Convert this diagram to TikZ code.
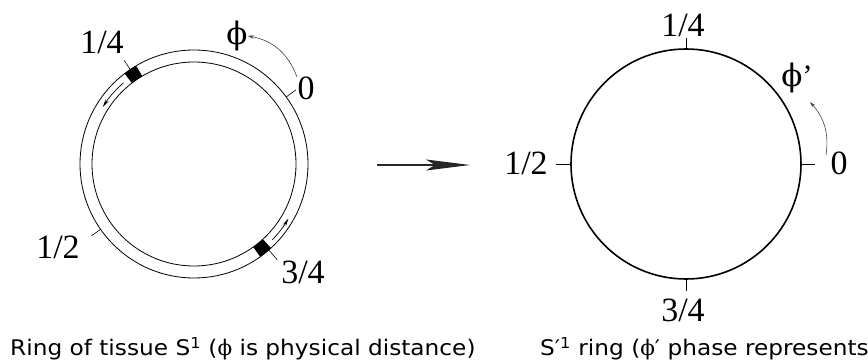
\documentclass[tikz,border=0pt]{standalone}
\usepackage{fontspec}
\newfontfamily\numfont{Liberation Serif}
\newfontfamily\phifont{DejaVu Serif}
\newfontfamily\capfont[FakeStretch=1.08]{DejaVu Sans}
\usetikzlibrary{arrows.meta, calc}

\tikzset{
  ringline/.style={draw, circle, line width=0.8pt, inner sep=0pt, outer sep=0pt},
  tickmark/.style={line width=0.6pt},
  numlabel/.style={font=\numfont\fontsize{34}{34}\selectfont, inner sep=0pt},
  phlabel/.style={font=\phifont\fontsize{31}{31}\selectfont, inner sep=0pt},
  caption/.style={font=\capfont\fontsize{21.5}{24}\selectfont, anchor=base west, inner sep=0pt},
  flowarrow/.style={line width=0.6pt, draw=black!75, -{Stealth[length=6pt, width=3.5pt]}},
  ringarrow/.style={line width=0.7pt, -{Stealth[length=8pt, width=3.5pt]}}
}

\begin{document}
\begin{tikzpicture}[x=1pt, y=1pt]
    \useasboundingbox (0,0) rectangle (868,364);

    % ring of tissue
    \coordinate (L) at (194,200);
    \node[ringline, minimum size=228pt] (ringout) at (L) {};
    \node[ringline, minimum size=204pt] (ringin) at (L) {};

    % excited blocks
    \fill ([shift={(L)}]120.5:102) arc[start angle=120.5, end angle=127.5, radius=102]
      -- ([shift={(L)}]127.5:114) arc[start angle=127.5, end angle=120.5, radius=114] -- cycle;
    \fill ([shift={(L)}]305.5:102) arc[start angle=305.5, end angle=312.5, radius=102]
      -- ([shift={(L)}]312.5:114) arc[start angle=312.5, end angle=305.5, radius=114] -- cycle;
    \draw[ringarrow] ([shift={(L)}]131:107.5) arc[start angle=131, end angle=148, radius=107.5];
    \draw[ringarrow] ([shift={(L)}]316:109) arc[start angle=316, end angle=330, radius=109];

    % ticks and labels, left
    \draw[tickmark] (ringout.36.5) -- ++(36.5:12);
    \draw[tickmark] (ringout.124) -- ++(124:11);
    \draw[tickmark] (ringout.215) -- ++(215:11);
    \draw[tickmark] (ringout.311) -- ++(311:13);
    \node[numlabel] (lzero) at (306,276) {0};
    \node[numlabel] (lquarter) at (102,322) {1/4};
    \node[numlabel] (lhalf) at (58,117) {1/2};
    \node[numlabel] (lthree) at (303,92) {3/4};
    \node[phlabel] (lphi) at (237,328) {ϕ};
    \coordinate (lstart) at (297,287);
    \draw[flowarrow] (lstart) to[bend right=30] (lphi.east);

    % mapping
    \coordinate (mapa) at (377,199);
    \coordinate (mapb) at (470,199);
    \draw[line width=1.2pt, draw=black!85, -{Stealth[length=44pt, width=11pt, inset=9pt]}] (mapa) -- (mapb);

    % phase ring
    \coordinate (R) at (686,200);
    \node[draw, circle, line width=1.6pt, inner sep=0pt, outer sep=0pt, minimum size=230pt] (phase) at (R) {};
    \draw[tickmark] (phase.0) -- ++(0:14);
    \draw[tickmark] (phase.90) -- ++(90:11);
    \draw[tickmark] (phase.180) -- ++(180:15);
    \draw[tickmark] (phase.270) -- ++(270:12);
    \node[numlabel] (rzero) at (839,201) {0};
    \node[numlabel] (rquarter) at (683,339) {1/4};
    \node[numlabel] (rhalf) at (526,201) {1/2};
    \node[numlabel] (rthree) at (683,54) {3/4};
    \node[phlabel] (rphi) at (797,286) {ϕ{\numfont ’}};
    \coordinate (rstart) at (826,209);
    \coordinate (rend) at (810,262);
    \draw[flowarrow] (rstart) to[bend right=25] (rend);

    % captions
    \node[caption] (lcap) at (10,8) {Ring of tissue S\textsuperscript{1} ({\phifont ϕ} is physical distance)};
    \node[caption] (rcap) at (540,8) {S′\textsuperscript{1} ring ({\phifont ϕ}′ phase represents};
\end{tikzpicture}
\end{document}
